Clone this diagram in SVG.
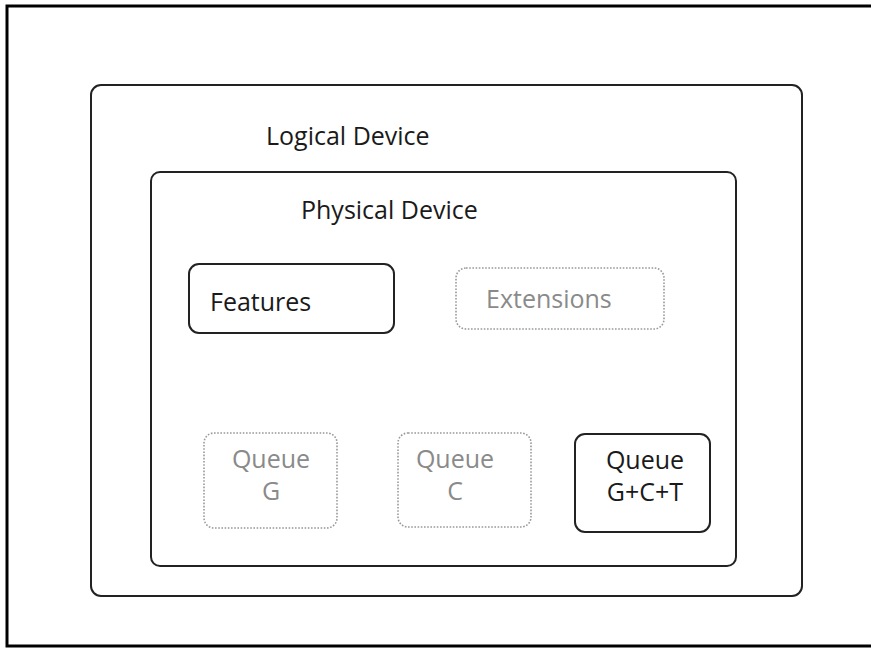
<svg xmlns="http://www.w3.org/2000/svg" width="871" height="648" viewBox="0 0 871 648">
  <style>
    .frame { fill: none; stroke: #000; stroke-width: 3; }
    .box { fill: #fff; stroke: #222; stroke-width: 2; }
    .opt { fill: #fff; stroke: #999; stroke-width: 1.6; stroke-dasharray: 1.6 1.6; }
    .lbl { font-family: "Open Sans", "Liberation Sans", sans-serif; font-size: 25px; fill: #1a1a1a; }
    .dim { fill: #8a8a8a; }
    .mid { text-anchor: middle; }
  </style>
  <rect class="frame" x="7" y="6" width="872" height="640"/>

  <g id="logical-device">
    <rect class="box" x="91" y="85" width="711" height="511" rx="10"/>
    <text class="lbl" x="266" y="145">Logical Device</text>
  </g>

  <g id="physical-device">
    <rect class="box" x="151" y="172" width="585" height="394" rx="9"/>
    <text class="lbl" x="301" y="219">Physical Device</text>
  </g>

  <g id="features">
    <rect class="box" x="189" y="264" width="205" height="69" rx="10"/>
    <text class="lbl" x="210" y="311">Features</text>
  </g>

  <g id="extensions">
    <rect class="opt" x="456" y="268" width="208" height="61" rx="10"/>
    <text class="lbl dim" x="486" y="308">Extensions</text>
  </g>

  <g id="queue-g">
    <rect class="opt" x="204" y="433" width="133" height="95" rx="10"/>
    <text class="lbl dim mid" x="271" y="468">Queue</text>
    <text class="lbl dim mid" x="271" y="500">G</text>
  </g>

  <g id="queue-c">
    <rect class="opt" x="398" y="433" width="133" height="94" rx="10"/>
    <text class="lbl dim mid" x="455" y="468">Queue</text>
    <text class="lbl dim mid" x="455" y="500">C</text>
  </g>

  <g id="queue-gct">
    <rect class="box" x="575" y="434" width="135" height="98" rx="10"/>
    <text class="lbl mid" x="645" y="469">Queue</text>
    <text class="lbl mid" x="645" y="501">G+C+T</text>
  </g>

  <g id="connectors"/>
</svg>
